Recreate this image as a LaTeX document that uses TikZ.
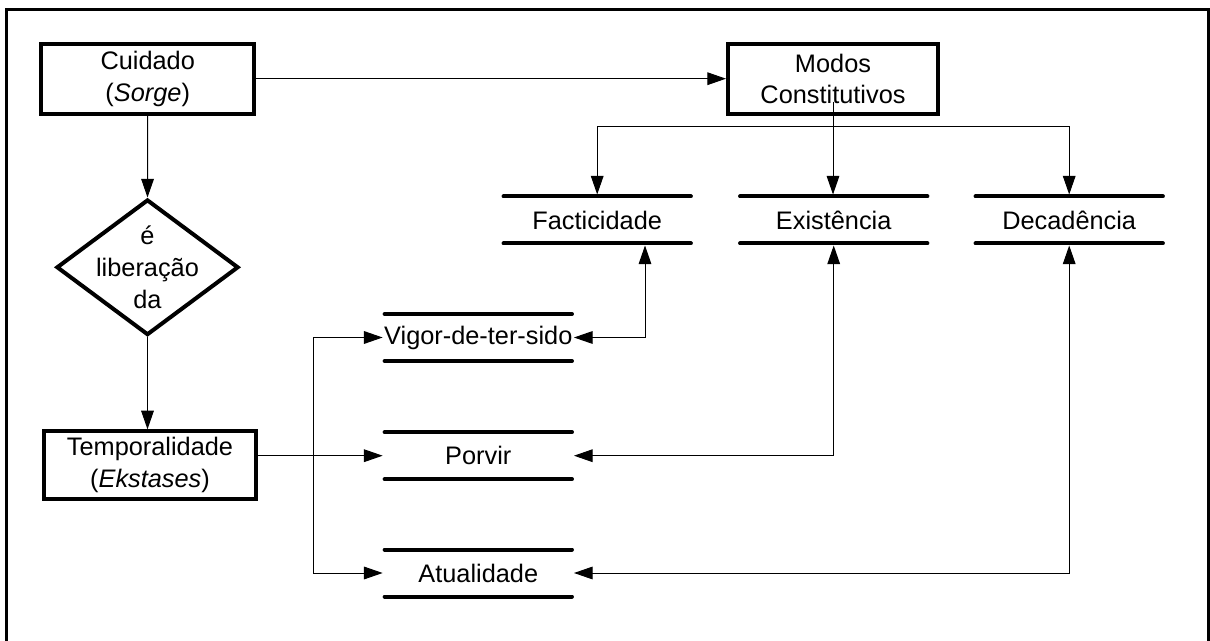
\documentclass[tikz,border=0pt]{standalone}
\usepackage{fontspec}
\setmainfont{Liberation Sans}
\usetikzlibrary{arrows.meta,shapes.geometric,calc}
\tikzset{mytip/.tip={Triangle[length=14pt,width=9.5pt]}}
\begin{document}
\begin{tikzpicture}[x=0.75pt,y=-0.75pt,
  txt/.style={font=\fontsize{19}{23.8}\selectfont, align=center},
  boxnode/.style={txt, draw, line width=3pt, rectangle, inner sep=0pt, minimum width=159pt, minimum height=52.5pt},
  barnode/.style={txt, inner sep=0pt, outer sep=0pt, minimum width=143.5pt, minimum height=35.25pt},
  bar/.style={line width=3pt, line cap=round, shorten <=1.5pt, shorten >=1.5pt},
  conn/.style={line width=0.75pt},
  frame/.style={line width=2.25pt, miter limit=10}
]
\fill[white] (0,0) rectangle (1210,641);
\useasboundingbox (0,0) rectangle (1210,641);
\draw[frame] (6.5,641) -- (6.5,9.8) -- (1208.8,9.8) -- (1208.8,641);

% main nodes
\node[boxnode, minimum width=159.5pt] (cuid) at (147.7,78.7) {Cuidado\\(\textit{Sorge})};
\node[boxnode, minimum width=157.5pt] (modos) at (833,79) {Modos\\Constitutivos};
\node[draw, diamond, line width=3pt, inner sep=0pt, minimum width=136.5pt, minimum height=101.7pt] (lib) at (147.5,267.3) {};
\node[txt] (libtxt) at (lib.center) {é\\liberação\\da};
\node[boxnode, minimum width=158.5pt, minimum height=50.8pt] (temp) at (150,465.2) {Temporalidade\\(\textit{Ekstases})};

% bar nodes
\node[barnode] (fact) at (597.2,220) {Facticidade};
\node[barnode] (exist) at (833.7,220) {Existência};
\node[barnode] (deca) at (1069.2,220) {Decadência};
\node[barnode] (vigor) at (478.3,337.5) {Vigor-de-ter-sido};
\node[barnode] (porvir) at (478.3,455.7) {Porvir};
\node[barnode] (atual) at (478.3,573) {Atualidade};
\foreach \n in {vigor,porvir,atual,fact,exist,deca} {
  \draw[bar] (\n.north west) -- (\n.north east);
  \draw[bar] (\n.south west) -- (\n.south east);
}

% connectors
\draw[conn, -mytip] (cuid.east) -- (cuid.east -| modos.west);
\draw[conn, -mytip] (cuid.south) -- (lib.north);
\draw[conn, -mytip] (lib.south) -- (lib.south |- temp.north);

\coordinate (mstart) at ($(modos.center)+(0,22.7)$);
\coordinate (bj) at ($(modos.south)+(0,10.5)$);
\draw[conn, -mytip, shorten >=1.5pt] (mstart) -- (mstart |- exist.north);
\draw[conn, -mytip, shorten >=1.5pt] (bj) -| (fact.north);
\draw[conn, -mytip, shorten >=1.5pt] (bj) -| (deca.north);

\draw[conn, mytip-mytip, shorten >=1.5pt] (vigor.east) -| ($(fact.south)+(47.8,0)$);
\draw[conn, mytip-mytip, shorten >=1.5pt] (porvir.east) -| (exist.south);
\draw[conn, mytip-mytip, shorten >=1.5pt] (atual.east) -| (deca.south);

\coordinate (tj) at ($(temp.east |- porvir.west)+(55.6,0)$);
\draw[conn, -mytip] (temp.east |- porvir.west) -- (porvir.west);
\draw[conn, -mytip] (tj) |- (vigor.west);
\draw[conn, -mytip] (tj) |- (atual.west);
\end{tikzpicture}
\end{document}
